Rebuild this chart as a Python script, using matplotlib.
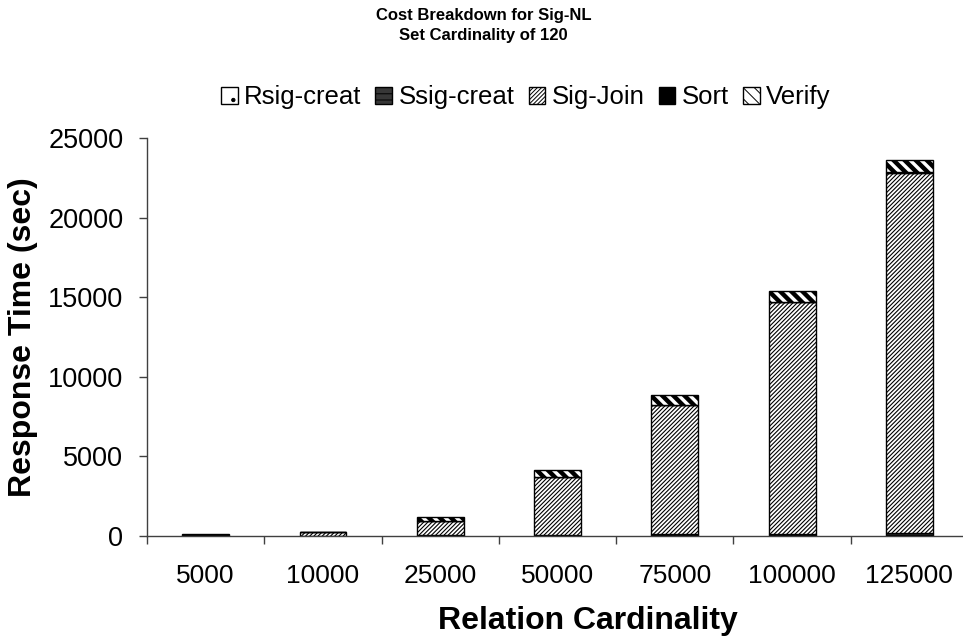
import matplotlib
matplotlib.use("Agg")
import matplotlib.pyplot as plt
import numpy as np

plt.rcParams['font.family'] = ['Liberation Sans', 'DejaVu Sans']

# Relation cardinalities (x categories) and per-phase cost in seconds
cardinality = ["5000", "10000", "25000", "50000", "75000", "100000", "125000"]
rsig_creat = [5, 10, 20, 30, 45, 60, 75]
ssig_creat = [10, 20, 40, 45, 65, 85, 130]
sig_join = [60, 190, 880, 3635, 8135, 14540, 22625]
sort_cost = [2, 4, 8, 15, 20, 25, 30]
verify = [20, 40, 225, 410, 570, 670, 775]

series = [
    ("Rsig-creat", rsig_creat, "white", ".", 0.6),
    ("Ssig-creat", ssig_creat, "white", "-" * 14, 0.7),
    ("Sig-Join", sig_join, "white", "/" * 8, 0.8),
    ("Sort", sort_cost, "black", None, 0.8),
    ("Verify", verify, "white", "\\" * 3, 3.2),
]

fig = plt.figure(figsize=(9.63, 6.39), dpi=100)
ax = fig.add_axes([0.1527, 0.1612, 0.8525, 0.6224])

x = np.arange(len(cardinality))
bottom = np.zeros(len(cardinality))
handles = []
for name, vals, color, hatch, hlw in series:
    vals = np.asarray(vals, dtype=float)
    bars = ax.bar(x, vals, width=0.4, bottom=bottom, color=color,
                  edgecolor="black", linewidth=1.0, hatch=hatch, label=name)
    for b in bars:
        if hasattr(b, "set_hatch_linewidth"):
            b.set_hatch_linewidth(hlw)
    handles.append(bars)
    bottom += vals

ax.set_xlim(-0.5, len(cardinality) - 0.5)
ax.set_ylim(0, 25000)
ax.set_yticks(np.arange(0, 25001, 5000))

# Tick marks sit between categories; labels are centred under each bar
ax.set_xticks(np.arange(-0.5, len(cardinality), 1.0))
ax.set_xticklabels([])
ax.set_xticks(x, minor=True)
ax.set_xticklabels(cardinality, minor=True)
ax.tick_params(axis="x", which="major", direction="out", length=6, width=1, color="#404040")
ax.tick_params(axis="x", which="minor", length=0, pad=20, labelsize=19)
ax.tick_params(axis="y", direction="out", length=6, width=1, color="#404040",
               pad=11, labelsize=19.5)

for side in ("top", "right"):
    ax.spines[side].set_visible(False)
for side in ("left", "bottom"):
    ax.spines[side].set_color("#404040")
    ax.spines[side].set_linewidth(1.0)

fig.text(0.502, 0.960, "Cost Breakdown for Sig-NL\nSet Cardinality of 120",
         ha="center", va="center", fontsize=12, fontweight="bold", linespacing=1.45)
fig.text(0.024, 0.473, "Response Time (sec)", rotation=90, ha="center", va="center",
         fontsize=23, fontweight="bold")
fig.text(0.61, 0.028, "Relation Cardinality", ha="center", va="center",
         fontsize=23, fontweight="bold")

leg = fig.legend(handles=handles, loc="center", bbox_to_anchor=(0.546, 0.848),
                 ncol=5, frameon=False, fontsize=18.5, handlelength=0.65,
                 handleheight=0.65, handletextpad=0.25, columnspacing=0.55,
                 borderaxespad=0)
for p in leg.get_patches():
    if hasattr(p, "set_hatch_linewidth"):
        p.set_hatch_linewidth(0.7)

fig.savefig("out.png", dpi=100)
